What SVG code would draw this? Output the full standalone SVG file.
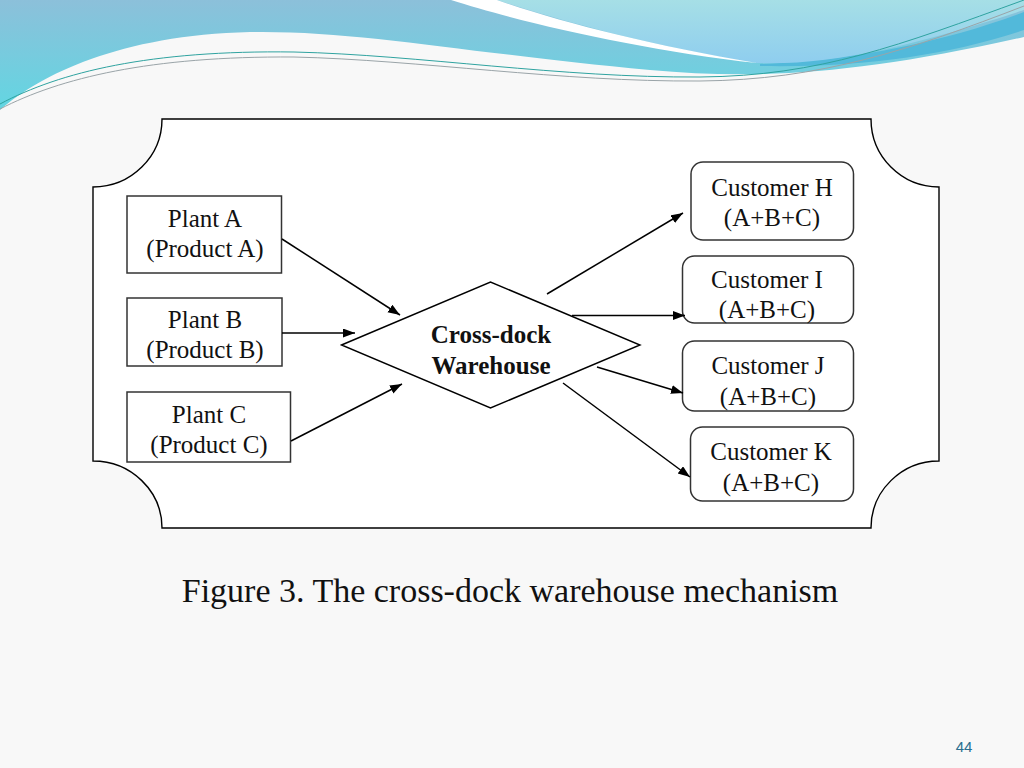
<svg xmlns="http://www.w3.org/2000/svg" width="1024" height="768" viewBox="0 0 1024 768">
  <defs>
    <linearGradient id="gBlue" x1="0" y1="0" x2="0" y2="110" gradientUnits="userSpaceOnUse">
      <stop offset="0" stop-color="#8cc0da"/>
      <stop offset="1" stop-color="#62d6e2"/>
    </linearGradient>
    <linearGradient id="gLight" x1="0" y1="0" x2="0" y2="65" gradientUnits="userSpaceOnUse">
      <stop offset="0" stop-color="#a6dfe6"/>
      <stop offset="1" stop-color="#8ecdef"/>
    </linearGradient>
    <marker id="arr" markerUnits="userSpaceOnUse" markerWidth="13" markerHeight="10" refX="12" refY="4.5" orient="auto">
      <path d="M0,0 L12,4.5 L0,9 Z" fill="#000"/>
    </marker>
    <style>
      .box { fill: #fff; stroke: #333; stroke-width: 1.5; }
      .lbl { font-family: "Liberation Serif", "Times New Roman", serif; font-size: 25px; fill: #111; text-anchor: middle; }
      .bold { font-weight: bold; }
      .conn line { stroke: #000; stroke-width: 1.5; marker-end: url(#arr); }
    </style>
  </defs>

  <rect x="0" y="0" width="1024" height="768" fill="#f8f8f8"/>

  <!-- header waves -->
  <g id="header">
    <path d="M0,110 C40,75 120,35 250,32 C360,30 480,55 650,70 C760,80 860,74 1024,37 L1024,0 L0,0 Z" fill="url(#gBlue)"/>
    <path d="M760,64 C860,60 950,40 1024,12 L1024,30 C950,55 860,68 760,66 Z" fill="#52b9da"/>
    <path d="M497,0 C540,14 640,45 757,63 C830,66 920,44 1024,10 L1024,0 Z" fill="url(#gLight)"/>
    <path d="M451,0 C520,22 640,50 757,63 C650,45 560,22 497,0 Z" fill="#ffffff"/>
    <path d="M0,104 C60,72 150,50 294,52 C420,55 560,78 700,77 C820,76 900,45 1024,0" fill="none" stroke="#2fa3a0" stroke-width="1"/>
    <path d="M0,109 C60,78 150,56 294,57 C420,60 560,82 700,81 C820,80 910,50 1024,6" fill="none" stroke="#9aa4a8" stroke-width="1"/>
  </g>

  <!-- frame -->
  <path id="frame" d="M162,119 L871,119 A68,68 0 0 0 939,187 L939,461 A68,67 0 0 0 871,528 L162,528 A69,67 0 0 0 93,461 L93,187 A69,68 0 0 0 162,119 Z" fill="#fff" stroke="#000" stroke-width="1.4"/>

  <g id="plantA">
    <rect class="box" x="127" y="196" width="154.5" height="77"/>
    <text class="lbl" x="205" y="227">Plant A</text>
    <text class="lbl" x="205" y="257">(Product A)</text>
  </g>
  <g id="plantB">
    <rect class="box" x="127" y="298" width="155" height="68"/>
    <text class="lbl" x="205" y="328">Plant B</text>
    <text class="lbl" x="205" y="358">(Product B)</text>
  </g>
  <g id="plantC">
    <rect class="box" x="127" y="392" width="163.5" height="70"/>
    <text class="lbl" x="209" y="423">Plant C</text>
    <text class="lbl" x="209" y="453">(Product C)</text>
  </g>

  <g id="warehouse">
    <polygon points="341.5,345 490.5,282 640,345 490.5,408" fill="#fff" stroke="#000" stroke-width="1.4"/>
    <text class="lbl bold" x="491" y="343">Cross-dock</text>
    <text class="lbl bold" x="491" y="374">Warehouse</text>
  </g>

  <g id="custH">
    <rect class="box" x="691" y="162" width="162.5" height="78" rx="12"/>
    <text class="lbl" x="772" y="196">Customer H</text>
    <text class="lbl" x="772" y="226">(A+B+C)</text>
  </g>
  <g id="custI">
    <rect class="box" x="682.5" y="256" width="171" height="67" rx="12"/>
    <text class="lbl" x="767" y="288">Customer I</text>
    <text class="lbl" x="767" y="318">(A+B+C)</text>
  </g>
  <g id="custJ">
    <rect class="box" x="682.5" y="341" width="171" height="70" rx="12"/>
    <text class="lbl" x="768" y="374">Customer J</text>
    <text class="lbl" x="768" y="405">(A+B+C)</text>
  </g>
  <g id="custK">
    <rect class="box" x="690.5" y="427" width="163" height="74" rx="12"/>
    <text class="lbl" x="771" y="460">Customer K</text>
    <text class="lbl" x="771" y="491">(A+B+C)</text>
  </g>

  <g id="connectors" class="conn">
    <line x1="282" y1="239" x2="400" y2="315"/>
    <line x1="282" y1="333" x2="355" y2="333"/>
    <line x1="291" y1="441" x2="402" y2="384"/>
    <line x1="547" y1="294" x2="683" y2="213"/>
    <line x1="572" y1="315.5" x2="685" y2="315.5"/>
    <line x1="597" y1="367" x2="683" y2="393"/>
    <line x1="563" y1="383" x2="690" y2="477"/>
  </g>

  <text id="caption" x="510" y="602" style="font-family:'Liberation Serif','Times New Roman',serif;font-size:34px;fill:#111;text-anchor:middle">Figure 3. The cross-dock warehouse mechanism</text>
  <text id="pagenum" x="964" y="752" style="font-family:'Liberation Sans',Arial,sans-serif;font-size:15px;fill:#2a6f8f;text-anchor:middle">44</text>
</svg>
